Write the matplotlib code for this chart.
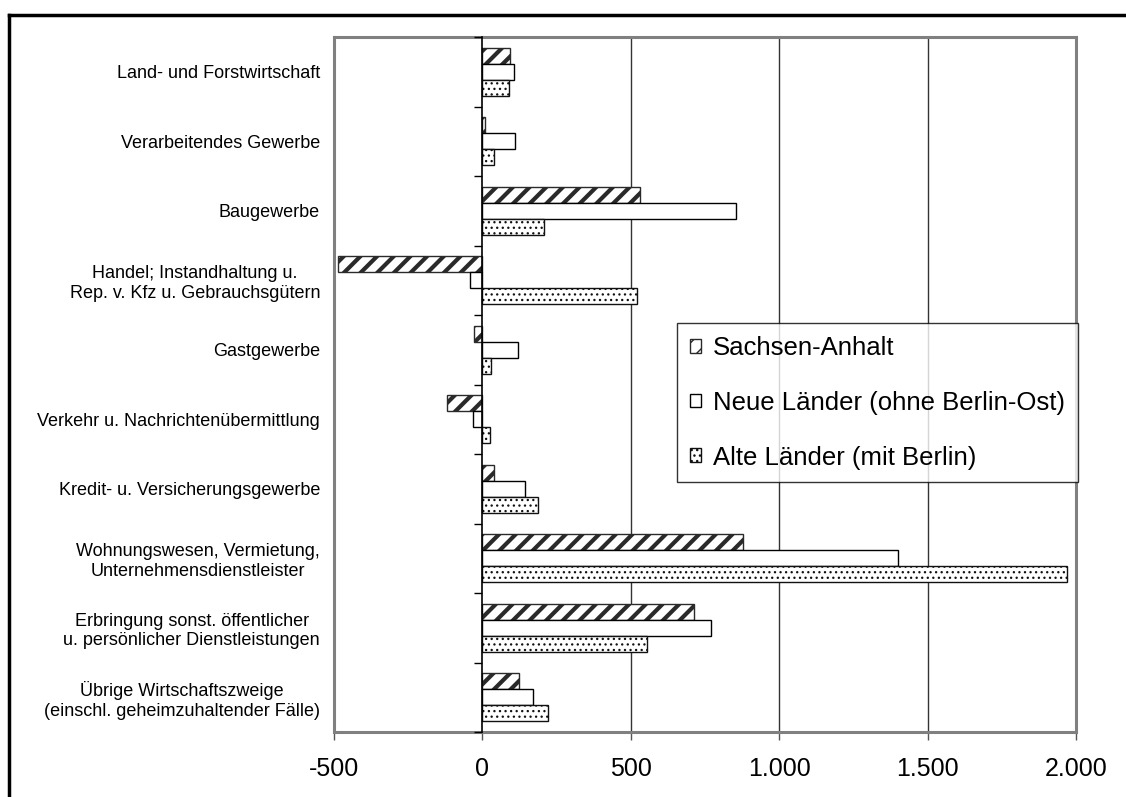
import matplotlib
matplotlib.use("Agg")
import matplotlib.pyplot as plt
from matplotlib.lines import Line2D
import numpy as np

plt.rcParams['font.family'] = ['Liberation Sans', 'DejaVu Sans']

categories = [
    "Land- und Forstwirtschaft",
    "Verarbeitendes Gewerbe",
    "Baugewerbe",
    "Handel; Instandhaltung u.\nRep. v. Kfz u. Gebrauchsgütern",
    "Gastgewerbe",
    "Verkehr u. Nachrichtenübermittlung",
    "Kredit- u. Versicherungsgewerbe",
    "Wohnungswesen, Vermietung,\nUnternehmensdienstleister",
    "Erbringung sonst. öffentlicher\nu. persönlicher Dienstleistungen",
    "Übrige Wirtschaftszweige\n(einschl. geheimzuhaltender Fälle)",
]
series_names = [
    "Sachsen-Anhalt",
    "Neue Länder (ohne Berlin-Ost)",
    "Alte Länder (mit Berlin)",
]
sachsen_anhalt = [92, 9, 530, -485, -27, -120, 40, 879, 712, 124]
neue_laender = [108, 111, 856, -41, 120, -33, 145, 1399, 771, 171]
alte_laender = [89, 38, 209, 522, 29, 24, 189, 1968, 554, 222]
x_ticks = [-500, 0, 500, 1000, 1500, 2000]
x_tick_labels = ["-500", "0", "500", "1.000", "1.500", "2.000"]

W, H = 1126, 797
fig = plt.figure(figsize=(W / 100, H / 100), dpi=100)
ax = fig.add_axes([334 / W, 1 - 732 / H, (1076 - 334) / W, (732 - 37) / H])

n = len(categories)
y = np.arange(n)
h = 0.23


def set_hatch_width(bars, lw):
    for p in bars:
        if hasattr(p, "set_hatch_linewidth"):
            p.set_hatch_linewidth(lw)


with plt.rc_context({"hatch.linewidth": 3.0}):
    sa_bars = ax.barh(y - h, sachsen_anhalt, height=h, facecolor="white",
                      edgecolor="#2a2a2a", hatch="//", linewidth=1.0,
                      label=series_names[0], zorder=3)
set_hatch_width(sa_bars, 3.0)

ax.barh(y, neue_laender, height=h, facecolor="white", edgecolor="black",
        linewidth=1.0, label=series_names[1], zorder=3)

with plt.rc_context({"hatch.linewidth": 0.9}):
    al_bars = ax.barh(y + h, alte_laender, height=h, facecolor="white",
                      edgecolor="#111111", hatch="...", linewidth=1.0,
                      label=series_names[2], zorder=3)
set_hatch_width(al_bars, 0.9)

ax.set_xlim(-500, 2000)
ax.set_ylim(n - 0.5, -0.5)

ax.set_xticks(x_ticks)
ax.set_xticklabels(x_tick_labels, fontsize=18)
ax.tick_params(axis="x", direction="out", length=6, width=1, color="#555555", pad=12)

ax.set_yticks(y)
ax.set_yticklabels(categories, fontsize=13, multialignment="center")
ax.tick_params(axis="y", length=0, pad=10)

for v in x_ticks[2:-1]:
    ax.axvline(v, color="#333333", linewidth=1.0, zorder=1)

for s in ax.spines.values():
    s.set_color("#808080")
    s.set_linewidth(2.2)

# category axis drawn at zero, with boundary ticks pointing left
zero_frac = (0 - (-500)) / 2500
sec = ax.secondary_yaxis(zero_frac)
sec.set_yticks(np.arange(n + 1) - 0.5)
sec.set_yticklabels([])
sec.tick_params(axis="y", direction="out", length=6, width=1, color="black")
sec.spines["left"].set_color("black")
sec.spines["left"].set_linewidth(1.2)
sec.set_zorder(4)

leg = fig.legend(loc="upper left", bbox_to_anchor=(677 / W, 1 - 323 / H),
                 fontsize=18.5, frameon=True, fancybox=False, edgecolor="black",
                 handlelength=0.45, handleheight=0.45, handletextpad=0.45,
                 labelspacing=1.2, borderpad=0.5, borderaxespad=0)
leg.get_frame().set_linewidth(1.0)

# outer frame around the chart
fig.add_artist(Line2D([9 / W, 9 / W], [0, 1 - 15 / H], color="black", linewidth=2.5,
                      transform=fig.transFigure))
fig.add_artist(Line2D([9 / W, 1], [1 - 15 / H, 1 - 15 / H], color="black", linewidth=2.5,
                      transform=fig.transFigure))

fig.savefig("out.png", dpi=100)
